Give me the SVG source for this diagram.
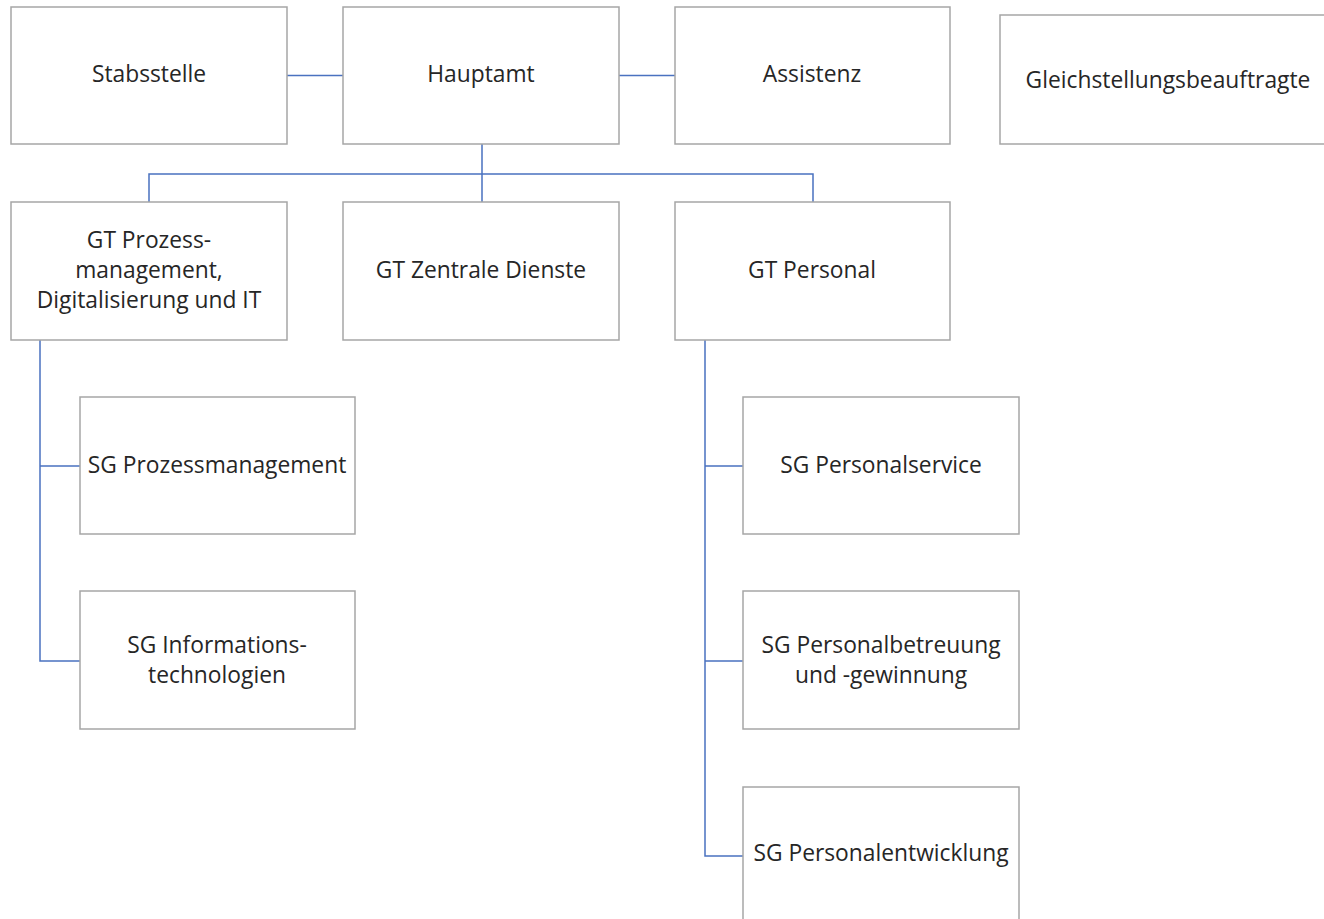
<svg xmlns="http://www.w3.org/2000/svg" width="1324" height="919" viewBox="0 0 1324 919">
<style>
.box{fill:#fff;stroke:#a6a6a6;stroke-width:1.5}
.t{font-family:"Open Sans","Noto Sans",sans-serif;font-size:22.8px;fill:#262626;text-anchor:middle;dominant-baseline:central}
.c{fill:none;stroke:#4a72c0;stroke-width:1.5}
</style>
<rect width="1324" height="919" fill="#fff"/>
<g id="connectors">
<path class="c" d="M287 75.5H343M619 75.5H675"/>
<path class="c" d="M482 144V202M149 202V174H813V202"/>
<path class="c" d="M40 340V661H80M40 466H80"/>
<path class="c" d="M705 340V856H743M705 466H743M705 661H743"/>
</g>
<g id="stabsstelle"><rect class="box" x="11" y="7" width="276" height="137"/><text class="t" x="149" y="73">Stabsstelle</text></g>
<g id="hauptamt"><rect class="box" x="343" y="7" width="276" height="137"/><text class="t" x="481" y="73">Hauptamt</text></g>
<g id="assistenz"><rect class="box" x="675" y="7" width="275" height="137"/><text class="t" x="812" y="73">Assistenz</text></g>
<g id="gleichstellung"><rect class="box" x="1000" y="15" width="330" height="129"/><text class="t" x="1168" y="79">Gleichstellungsbeauftragte</text></g>
<g id="gt-prozess"><rect class="box" x="11" y="202" width="276" height="138"/><text class="t" x="149" y="239">GT Prozess-</text><text class="t" x="149" y="269">management,</text><text class="t" x="149" y="299">Digitalisierung und IT</text></g>
<g id="gt-zentral"><rect class="box" x="343" y="202" width="276" height="138"/><text class="t" x="481" y="269">GT Zentrale Dienste</text></g>
<g id="gt-personal"><rect class="box" x="675" y="202" width="275" height="138"/><text class="t" x="812" y="269">GT Personal</text></g>
<g id="sg-prozess"><rect class="box" x="80" y="397" width="275" height="137"/><text class="t" x="217" y="464">SG Prozessmanagement</text></g>
<g id="sg-it"><rect class="box" x="80" y="591" width="275" height="138"/><text class="t" x="217" y="644">SG Informations-</text><text class="t" x="217" y="674">technologien</text></g>
<g id="sg-service"><rect class="box" x="743" y="397" width="276" height="137"/><text class="t" x="881" y="464">SG Personalservice</text></g>
<g id="sg-betreuung"><rect class="box" x="743" y="591" width="276" height="138"/><text class="t" x="881" y="644">SG Personalbetreuung</text><text class="t" x="881" y="674">und -gewinnung</text></g>
<g id="sg-entwicklung"><rect class="box" x="743" y="787" width="276" height="140"/><text class="t" x="881" y="852">SG Personalentwicklung</text></g>
</svg>
